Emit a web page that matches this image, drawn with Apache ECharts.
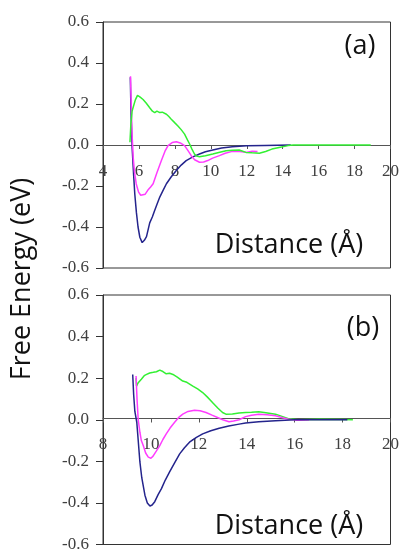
<!DOCTYPE html>
<html>
<head>
<meta charset="utf-8">
<script src="https://cdn.jsdelivr.net/npm/echarts@6/dist/echarts.min.js"></script>
<style>html,body{margin:0;padding:0;background:#fff}#c{width:402px;height:553px}</style>
</head>
<body>
<div id="c"></div>
<script>
// ---- data ----
const yTicks = [-0.6, -0.4, -0.2, 0.0, 0.2, 0.4, 0.6];
const xRangeA = [4, 20];
const xRangeB = [8, 20];
const panelLabels = ['(a)', '(b)'];
const xTitle = 'Distance (Å)';
const yTitle = 'Free Energy (eV)';

const aBlue = [[5.52,0.33],[5.56,0.15],[5.62,-0.01],[5.7,-0.14],[5.77,-0.24],[5.86,-0.33],[5.95,-0.40],[6.05,-0.45],[6.18,-0.476],[6.3,-0.465],[6.42,-0.447],[6.6,-0.38],[6.75,-0.35],[6.88,-0.318],[7.0,-0.29],[7.16,-0.254],[7.35,-0.22],[7.53,-0.189],[7.8,-0.155],[8.08,-0.124],[8.35,-0.098],[8.63,-0.076],[9.0,-0.058],[9.37,-0.044],[9.7,-0.033],[10.11,-0.024],[10.6,-0.015],[11.2,-0.008],[12,-0.004],[13,-0.002],[14.45,0]];
const aMagenta = [[5.53,0.335],[5.57,0.2],[5.62,0.05],[5.68,-0.06],[5.75,-0.13],[5.85,-0.19],[5.98,-0.23],[6.1,-0.245],[6.2,-0.25],[6.35,-0.24],[6.5,-0.22],[6.65,-0.205],[6.79,-0.189],[7.0,-0.135],[7.25,-0.076],[7.45,-0.03],[7.62,-0.003],[7.85,0.012],[8.08,0.016],[8.3,0.01],[8.54,-0.003],[8.75,-0.03],[8.91,-0.052],[9.1,-0.072],[9.37,-0.084],[9.6,-0.083],[9.83,-0.076],[10.1,-0.064],[10.48,-0.052],[10.8,-0.04],[11.2,-0.031],[11.6,-0.032],[11.96,-0.036],[12.3,-0.03],[12.6,-0.032]];
const aGreen = [[5.5,0.013],[5.55,0.1],[5.62,0.166],[5.7,0.19],[5.8,0.22],[5.92,0.242],[6.05,0.235],[6.23,0.222],[6.4,0.205],[6.6,0.182],[6.75,0.165],[6.88,0.158],[7.0,0.165],[7.16,0.158],[7.3,0.16],[7.53,0.15],[7.65,0.14],[7.8,0.126],[8.0,0.108],[8.17,0.093],[8.35,0.075],[8.54,0.053],[8.7,0.025],[8.82,0.005],[8.95,-0.02],[9.09,-0.044],[9.2,-0.054],[9.37,-0.057],[9.7,-0.052],[10.11,-0.044],[10.5,-0.035],[10.85,-0.028],[11.2,-0.026],[11.58,-0.024],[11.96,-0.036],[12.3,-0.038],[12.7,-0.04],[13.05,-0.032],[13.4,-0.02],[13.8,-0.012],[14.3,-0.003],[14.6,0],[16,0],[17.5,0],[18.9,0]];

const bBlue = [[9.24,0.218],[9.28,0.12],[9.33,0.04],[9.41,-0.012],[9.47,-0.1],[9.54,-0.203],[9.62,-0.28],[9.75,-0.363],[9.85,-0.4],[9.96,-0.415],[10.05,-0.41],[10.16,-0.394],[10.3,-0.36],[10.44,-0.331],[10.6,-0.29],[10.78,-0.251],[11.0,-0.205],[11.2,-0.164],[11.4,-0.135],[11.61,-0.108],[11.9,-0.085],[12.16,-0.068],[12.5,-0.053],[12.85,-0.041],[13.25,-0.03],[13.68,-0.021],[13.95,-0.016],[14.5,-0.01],[15.2,-0.005],[16,0],[17,0],[18.2,0]];
const bMagenta = [[9.38,0.21],[9.42,0.1],[9.47,0.0],[9.54,-0.06],[9.6,-0.1],[9.68,-0.124],[9.78,-0.16],[9.89,-0.18],[10.0,-0.185],[10.09,-0.175],[10.23,-0.15],[10.37,-0.124],[10.5,-0.095],[10.64,-0.068],[10.8,-0.04],[10.99,-0.012],[11.15,0.01],[11.33,0.027],[11.55,0.04],[11.82,0.046],[12.05,0.043],[12.3,0.035],[12.55,0.022],[12.78,0.011],[13.0,0.0],[13.26,-0.01],[13.45,-0.006],[13.68,0.0],[13.95,0.015],[14.2,0.022],[14.5,0.027],[14.85,0.024],[15.2,0.019],[15.5,0.01],[15.74,0.003],[16.1,-0.002],[16.6,0]];
const bGreen = [[9.38,0.2],[9.4,0.162],[9.47,0.178],[9.6,0.195],[9.72,0.212],[9.82,0.218],[9.95,0.225],[10.1,0.228],[10.23,0.231],[10.37,0.239],[10.5,0.232],[10.64,0.221],[10.78,0.224],[10.92,0.218],[11.1,0.205],[11.33,0.186],[11.5,0.18],[11.75,0.162],[11.95,0.148],[12.16,0.131],[12.35,0.11],[12.57,0.083],[12.8,0.055],[12.99,0.035],[13.13,0.027],[13.4,0.028],[13.68,0.032],[13.95,0.035],[14.2,0.036],[14.5,0.038],[14.8,0.034],[15.2,0.027],[15.5,0.015],[15.74,0.005],[16.15,0],[17,0.002],[18,0.001],[18.43,0]];

// ---- chart ----
const C_BLUE = '#24248c', C_MAG = '#ff3cff', C_GREEN = '#33f033';
const tickFont = { fontFamily: 'Liberation Serif', fontSize: 17, color: '#404040' };
const gridA = { left: 103, top: 22, width: 289, height: 246 };
const gridB = { left: 103, top: 295, width: 290, height: 252 };

function xAxis(idx, range, g) {
  return {
    type: 'value', gridIndex: idx, min: range[0], max: range[1], interval: 2,
    position: 'bottom', offset: -g.height / 2,
    axisLine: { show: true, onZero: false, lineStyle: { color: '#555', width: 1 } },
    axisTick: { show: true, length: 4, lineStyle: { color: '#555' } },
    axisLabel: Object.assign({ margin: 18, showMinLabel: true, showMaxLabel: true }, tickFont),
    splitLine: { show: false }
  };
}
function yAxis(idx) {
  return {
    type: 'value', gridIndex: idx, min: yTicks[0], max: yTicks[yTicks.length - 1], interval: 0.2,
    axisLine: { show: true, onZero: false, lineStyle: { color: '#333', width: 1 } },
    axisTick: { show: true, length: 7, lineStyle: { color: '#333' } },
    axisLabel: Object.assign({ margin: 14, formatter: v => v.toFixed(1) }, tickFont),
    splitLine: { show: false }
  };
}
function line(data, color, xi, z) {
  return { type: 'line', data: data, xAxisIndex: xi, yAxisIndex: xi, showSymbol: false, symbol: 'none',
           lineStyle: { color: color, width: 1.5 }, z: z, animation: false };
}

const chart = echarts.init(document.getElementById('c'));
const titleFont = { fontFamily: 'Open Sans', fontSize: 27, fill: '#111' };
chart.setOption({
  animation: false,
  grid: [
    Object.assign({ show: true, borderColor: '#333', borderWidth: 1, backgroundColor: 'transparent' }, gridA),
    Object.assign({ show: true, borderColor: '#333', borderWidth: 1, backgroundColor: 'transparent' }, gridB)
  ],
  xAxis: [xAxis(0, xRangeA, gridA), xAxis(1, xRangeB, gridB)],
  yAxis: [yAxis(0), yAxis(1)],
  series: [
    line(aBlue, C_BLUE, 0, 2), line(aMagenta, C_MAG, 0, 3), line(aGreen, C_GREEN, 0, 4),
    line(bGreen, C_GREEN, 1, 2), line(bMagenta, C_MAG, 1, 3), line(bBlue, C_BLUE, 1, 4)
  ],
  graphic: [
    { type: 'text', x: 360, y: 46, style: Object.assign({ text: panelLabels[0], align: 'center', verticalAlign: 'middle' }, titleFont) },
    { type: 'text', x: 363, y: 328, style: Object.assign({ text: panelLabels[1], align: 'center', verticalAlign: 'middle' }, titleFont) },
    { type: 'text', x: 289, y: 245, style: Object.assign({ text: xTitle, align: 'center', verticalAlign: 'middle' }, titleFont) },
    { type: 'text', x: 289, y: 526, style: Object.assign({ text: xTitle, align: 'center', verticalAlign: 'middle' }, titleFont) },
    { type: 'text', x: 22, y: 279, rotation: Math.PI / 2, style: Object.assign({ text: yTitle, align: 'center', verticalAlign: 'middle', fontSize: 26 }, titleFont) }
  ]
});
</script>
</body>
</html>
